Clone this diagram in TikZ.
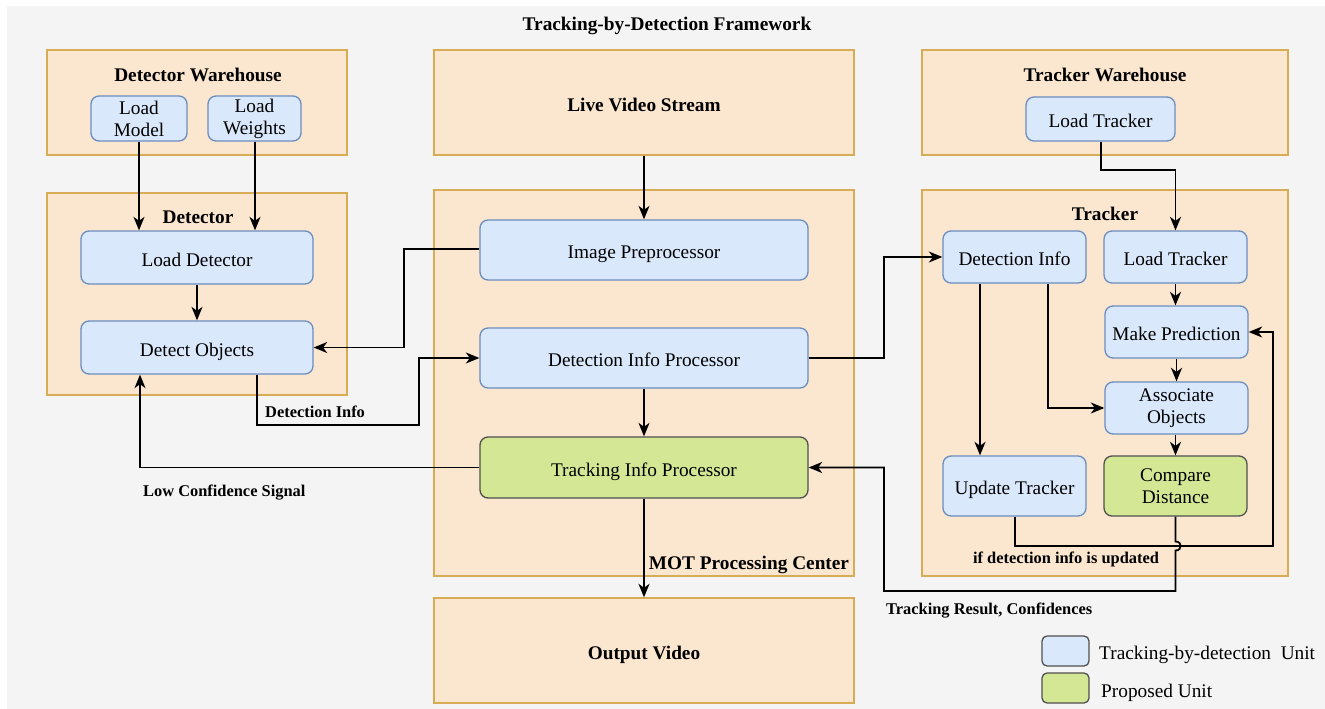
\documentclass[tikz,border=0pt]{standalone}
\usepackage{fontspec}
\setmainfont{Liberation Serif}
\usetikzlibrary{arrows.meta}
\definecolor{bgc}{HTML}{F4F4F4}
\definecolor{contf}{HTML}{FBE6CF}
\definecolor{contb}{HTML}{D8AC54}
\definecolor{bluef}{HTML}{DAE8FC}
\definecolor{blueb}{HTML}{6C8EBF}
\definecolor{greenf}{HTML}{D4E794}
\definecolor{greenb}{HTML}{505050}
\newcommand{\fsz}{\fontsize{19.3}{22}\selectfont\rmfamily}
\newcommand{\lsz}{\fontsize{16.4}{19}\selectfont\rmfamily}
\newcommand{\bx}[7]{%
  \pgfmathsetmacro{\bxcx}{(#3+#5)/2}\pgfmathsetmacro{\bxcy}{(#4+#6)/2}%
  \pgfmathsetmacro{\bxw}{#5-#3}\pgfmathsetmacro{\bxh}{#6-#4}%
  \node[#2, minimum width=\bxw pt, minimum height=\bxh pt, inner sep=0pt] (#1) at (\bxcx,\bxcy) {#7};}
\begin{document}
\begin{tikzpicture}[x=1pt,y=-1pt,
  one/.style={text height=21.5pt, text depth=4pt},
  cont/.style={draw=contb, fill=contf, line width=1.4pt, font=\fsz\bfseries, align=center},
  unit/.style={draw=blueb, fill=bluef, rounded corners=8pt, line width=1.3pt, font=\fsz, align=center},
  prop/.style={unit, draw=greenb, fill=greenf},
  legb/.style={draw=greenb, fill=bluef, rounded corners=5pt, line width=1.3pt},
  legg/.style={legb, fill=greenf},
  ttl/.style={font=\fsz\bfseries, inner sep=0pt, text height=18.5pt, text depth=4pt},
  lbl/.style={font=\lsz\bfseries, inner sep=0pt, text height=16pt, text depth=3.4pt},
  legt/.style={font=\fsz, inner sep=0pt, anchor=west, text height=18.5pt, text depth=4pt},
  arr/.style={-{Stealth[length=13.5pt,width=11pt,inset=4pt]}, line width=1.8pt},
  ln/.style={line width=1.8pt}]
\useasboundingbox (0,0) rectangle (1325,709);
\fill[bgc] (7,6) rectangle (1325,709);
\node[ttl] (title) at (667,23) {Tracking-by-Detection Framework};

% containers
\bx{dw}{cont}{47}{50}{347}{155}{}
\node[ttl] (dwt) at (198,74) {Detector Warehouse};
\bx{lvs}{cont,one}{434}{50}{854}{155}{Live Video Stream}
\bx{tw}{cont}{922}{50}{1288}{155}{}
\node[ttl] (twt) at (1105,74) {Tracker Warehouse};
\bx{det}{cont}{47}{193}{347}{395}{}
\node[ttl] (dett) at (198,216) {Detector};
\bx{mot}{cont}{434}{190}{854}{576}{}
\node[ttl] (mott) at (749,562) {MOT Processing Center};
\bx{trk}{cont}{922}{190}{1288}{576}{}
\node[ttl] (trkt) at (1105,213) {Tracker};
\bx{out}{cont,one}{434}{598}{854}{703}{Output Video}

% units
\bx{lm}{unit}{91}{96}{187}{141}{Load\\Model}
\bx{lw}{unit}{208}{96}{301}{141}{Load\\Weights}
\bx{ltw}{unit,one}{1026}{97}{1175}{141}{Load Tracker}
\bx{ld}{unit,one}{81}{231}{313}{284}{Load Detector}
\bx{do}{unit,one}{81}{321}{313}{374}{Detect Objects}
\bx{ip}{unit,one}{480}{220}{808}{280}{Image Preprocessor}
\bx{dip}{unit,one}{480}{328}{808}{388}{Detection Info Processor}
\bx{tip}{prop,one}{480}{437}{808}{498}{Tracking Info Processor}
\bx{di}{unit,one}{943}{231}{1086}{283}{Detection Info}
\bx{lt}{unit,one}{1104}{231}{1247}{283}{Load Tracker}
\bx{mp}{unit,one}{1105}{306}{1248}{358}{Make Prediction}
\bx{ao}{unit}{1105}{382}{1248}{434}{Associate\\Objects}
\bx{ut}{unit,one}{943}{456}{1086}{516}{Update Tracker}
\bx{cd}{prop}{1104}{456}{1247}{516}{Compare\\Distance}

% legend
\bx{lgb}{legb}{1042}{636}{1089}{666}{}
\bx{lgg}{legg}{1042}{673}{1089}{703}{}
\node[legt] (lgbt) at (1099,652) {Tracking-by-detection\ \ Unit};
\node[legt] (lggt) at (1101,690) {Proposed Unit};

% connectors
\draw[arr] (lm.south -| 139,0) -- (ld.north -| 139,0);
\draw[arr] (lw.south -| 255,0) -- (ld.north -| 255,0);
\draw[arr] (ld.south) -- (do.north);
\draw[arr] (lvs.south) -- (ip.north);
\draw[arr] (ip.west |- 0,249) -- (404,249) |- (do.east);
\draw[arr] (do.south -| 257,0) -- (257,425) -- (419,425) |- (dip.west);
\draw[arr] (dip.south) -- (tip.north);
\draw[arr] (tip.west) -| (do.south -| 140,0);
\draw[arr] (tip.south) -- (out.north);
\draw[arr] (dip.east) -- (884,358) |- (di.west);
\draw[arr] (ltw.south -| 1101,0) -- (1101,170) -| (lt.north);
\draw[arr] (lt.south) -- (mp.north -| lt.south);
\draw[arr] (mp.south) -- (ao.north);
\draw[arr] (ao.south -| cd.north) -- (cd.north);
\draw[arr] (di.south -| 980,0) -- (ut.north -| 980,0);
\draw[arr] (di.south -| 1048,0) |- (ao.west |- 0,408);
\draw[arr] (ut.south -| 1015,0) -- (1015,546) -- (1273,546) |- (mp.east);
\draw[arr] (cd.south) -- (cd.south |- 0,541.5) .. controls (1182.5,541.5) and (1182.5,550.5) .. (cd.south |- 0,550.5) -- (cd.south |- 0,591) -- (884,591) |- (tip.east);

% edge labels
\node[lbl, anchor=west] (l1) at (265,411) {Detection Info};
\node[lbl, anchor=west] (l2) at (143,490) {Low Confidence Signal};
\node[lbl] (l3) at (1066,557) {if detection info is updated};
\node[lbl, anchor=west] (l4) at (886,608) {Tracking Result, Confidences};
\end{tikzpicture}
\end{document}
